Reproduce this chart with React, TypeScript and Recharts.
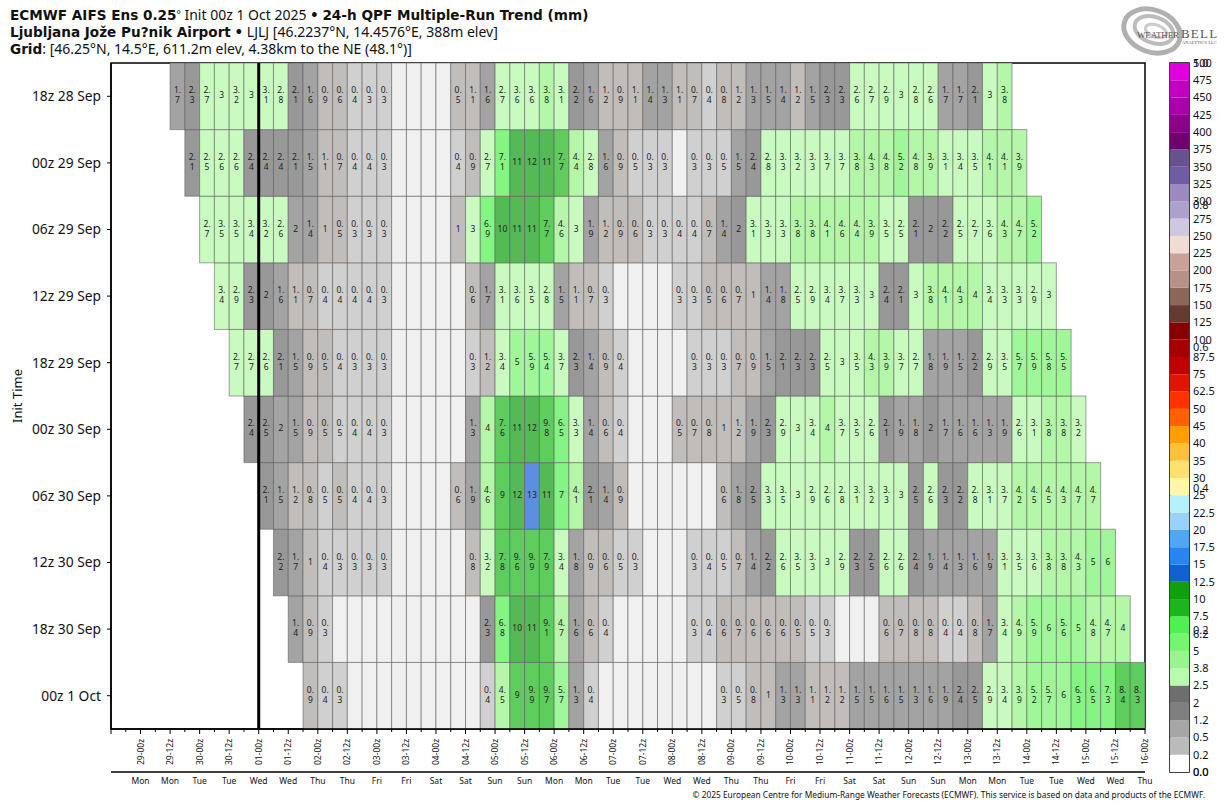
// ECMWF AIFS multi-run QPF trend table, drawn as stacked bars (one series per init run)
import React from "react";
import { BarChart, Bar, XAxis, YAxis, ReferenceLine, ReferenceArea } from "recharts";

const FONT = '"Noto Sans", sans-serif';
const BOLD_FONT = '"DejaVu Sans", sans-serif';

// init runs, top row first
const runLabels = ["18z 28 Sep", "00z 29 Sep", "06z 29 Sep", "12z 29 Sep", "18z 29 Sep", "00z 30 Sep", "06z 30 Sep", "12z 30 Sep", "18z 30 Sep", "00z 1 Oct"];
// first 6-hourly column of each run
const runStarts = [4, 5, 6, 7, 8, 9, 10, 11, 12, 13];

// 24-h QPF per run (mm). 0 means below the lowest printed value.
// 0.48/0.52 style values print the same but fall either side of a colour break
const run18z28Sep = [1.7, 2.3, 2.7, 3, 3.2, 3, 3.1, 2.8, 2.1, 1.6, 0.9, 0.6, 0.4, 0.3, 0.3, 0, 0, 0, 0, 0.52, 1.1, 1.6, 2.7, 3.6, 3.6, 3.8, 3.1, 2.2, 1.6, 1.2, 0.9, 1.1, 1.4, 1.3, 1.1, 0.7, 0.4, 0.8, 1.2, 1.3, 1.5, 1.4, 1.2, 1.5, 2.3, 2.3, 2.6, 2.7, 2.9, 3, 2.8, 2.6, 1.7, 1.7, 2.1, 3, 3.8];
const run00z29Sep = [2.1, 2.54, 2.6, 2.6, 2.4, 2.4, 2.4, 2.1, 1.5, 1.1, 0.7, 0.4, 0.4, 0.3, 0, 0, 0, 0, 0.4, 0.9, 2.7, 7.1, 11, 12, 11, 7.7, 4.4, 2.8, 1.6, 0.9, 0.48, 0.3, 0.3, 0, 0.3, 0.3, 0.48, 1.5, 2.4, 2.8, 3.3, 3.2, 3.3, 3.7, 3.7, 3.8, 4.3, 4.8, 5.2, 4.8, 3.9, 3.1, 3.4, 3.5, 4.1, 4.1, 3.9];
const run06z29Sep = [2.7, 3.5, 3.5, 3.4, 3.2, 2.6, 1.98, 1.4, 1, 0.52, 0.3, 0.3, 0.3, 0, 0, 0, 0, 1, 3, 6.9, 10, 11, 11, 7.7, 4.6, 3, 1.9, 1.2, 0.9, 0.6, 0.3, 0.3, 0.4, 0.4, 0.7, 1.4, 2.02, 3.1, 3.3, 3.3, 3.8, 3.8, 4.1, 4.6, 4.4, 3.9, 3.5, 2.54, 2.1, 2.02, 2.2, 2.54, 2.7, 3.6, 4.3, 4.7, 5.2];
const run12z29Sep = [3.4, 2.9, 2.3, 2.02, 1.6, 1.1, 0.7, 0.4, 0.4, 0.4, 0.4, 0.3, 0, 0, 0, 0, 0, 0.6, 1.7, 3.1, 3.6, 3.5, 2.8, 1.5, 1.1, 0.7, 0.3, 0, 0, 0, 0, 0.3, 0.3, 0.52, 0.6, 0.7, 1, 1.4, 1.8, 2.54, 2.9, 3.4, 3.7, 3.3, 3, 2.4, 2.1, 3, 3.8, 4.1, 4.3, 4, 3.4, 3.3, 3.3, 2.9, 3];
const run18z29Sep = [2.7, 2.7, 2.6, 2.1, 1.5, 0.9, 0.52, 0.4, 0.3, 0.3, 0.3, 0, 0, 0, 0, 0, 0.3, 1.2, 3.4, 5, 5.9, 5.4, 3.7, 2.3, 1.4, 0.9, 0.4, 0, 0, 0, 0, 0.3, 0.3, 0.3, 0.7, 0.9, 1.5, 2.1, 2.3, 2.3, 2.54, 3, 3.5, 4.3, 3.9, 3.7, 2.7, 1.8, 1.9, 1.5, 2.2, 2.9, 3.5, 5.7, 5.9, 5.8, 5.5];
const run00z30Sep = [2.4, 2.46, 1.98, 1.5, 0.9, 0.52, 0.48, 0.4, 0.4, 0.3, 0, 0, 0, 0, 0, 1.3, 4, 7.6, 11, 12, 9.8, 6.5, 3.3, 1.4, 0.6, 0.4, 0, 0, 0, 0.52, 0.7, 0.8, 1, 1.2, 1.9, 2.3, 2.9, 3, 3.4, 4, 3.7, 3.5, 2.6, 2.1, 1.9, 1.8, 2.02, 1.7, 1.6, 1.6, 1.3, 1.9, 2.6, 3.1, 3.8, 3.8, 3.2];
const run06z30Sep = [2.1, 1.5, 1.2, 0.8, 0.48, 0.52, 0.4, 0.4, 0.3, 0, 0, 0, 0, 0.6, 1.9, 4.6, 9, 12, 13, 11, 7, 4.1, 2.1, 1.4, 0.9, 0, 0, 0, 0, 0, 0, 0.6, 1.8, 2.46, 3.3, 3.5, 3, 2.9, 2.6, 2.8, 3.1, 3.2, 3.3, 3, 2.46, 2.6, 2.3, 2.2, 2.8, 3.1, 3.7, 4.2, 4.5, 4.5, 4.3, 4.7, 4.7];
const run12z30Sep = [2.2, 1.7, 1, 0.4, 0.3, 0.3, 0.3, 0.3, 0, 0, 0, 0, 0, 0.8, 3.2, 7.8, 9.6, 9.9, 7.9, 3.4, 1.8, 0.9, 0.6, 0.48, 0.3, 0, 0, 0, 0.3, 0.4, 0.48, 0.7, 1.4, 2.2, 2.6, 3.5, 3.3, 3, 2.9, 2.3, 2.46, 2.6, 2.6, 2.4, 1.9, 1.4, 1.3, 1.6, 1.9, 3.1, 3.5, 3.6, 3.8, 3.8, 4.3, 5, 6];
const run18z30Sep = [1.4, 0.9, 0.3, 0, 0, 0, 0, 0, 0, 0, 0, 0, 0, 2.3, 6.8, 10, 11, 9.1, 4.7, 1.6, 0.6, 0.4, 0, 0, 0, 0, 0, 0.3, 0.4, 0.6, 0.7, 0.6, 0.6, 0.6, 0.52, 0.48, 0.3, 0, 0, 0, 0.6, 0.7, 0.8, 0.8, 0.4, 0.4, 0.8, 1.7, 3.4, 4.9, 5.9, 6, 5.6, 5, 4.8, 4.7, 4];
const run00z1Oct = [0.9, 0.4, 0.3, 0, 0, 0, 0, 0, 0, 0, 0, 0, 0.4, 4.5, 9, 9.9, 9.7, 5.7, 1.3, 0.4, 0, 0, 0, 0, 0, 0, 0, 0, 0.3, 0.48, 0.8, 1, 1.3, 1.3, 1.1, 1.2, 1.2, 1.5, 1.5, 1.6, 1.5, 1.3, 1.6, 1.9, 2.4, 2.46, 2.9, 3.4, 3.9, 5.2, 5.7, 6, 6.3, 6.5, 7.3, 8.4, 8.3];
const runValues = [run18z28Sep, run00z29Sep, run06z29Sep, run12z29Sep, run18z29Sep, run00z30Sep, run06z30Sep, run12z30Sep, run18z30Sep, run00z1Oct];

// x axis labels, one for every 12 hours
const timeLabels = ["29-00z", "29-12z", "30-00z", "30-12z", "01-00z", "01-12z", "02-00z", "02-12z", "03-00z", "03-12z", "04-00z", "04-12z", "05-00z", "05-12z", "06-00z", "06-12z", "07-00z", "07-12z", "08-00z", "08-12z", "09-00z", "09-12z", "10-00z", "10-12z", "11-00z", "11-12z", "12-00z", "12-12z", "13-00z", "13-12z", "14-00z", "14-12z", "15-00z", "15-12z", "16-00z"];
const dayLabels = ["Mon", "Mon", "Tue", "Tue", "Wed", "Wed", "Thu", "Thu", "Fri", "Fri", "Sat", "Sat", "Sun", "Sun", "Mon", "Mon", "Tue", "Tue", "Wed", "Wed", "Thu", "Thu", "Fri", "Fri", "Sat", "Sat", "Sun", "Sun", "Mon", "Mon", "Tue", "Tue", "Wed", "Wed", "Thu"];

// colour table of the cells: upper break, faded fill
const cellBreaks = [0.25, 0.5, 1.25, 2, 2.5, 3.8, 5, 6.25, 7.5, 10, 12.5, 15];
const cellColors = ["#f0f0f0", "#d0d0d0", "#c1bdbb", "#a3a3a3", "#989898", "#c9fbc1", "#b4f7a9", "#9ff79a", "#84f582", "#5ecd5e", "#55b955", "#5b90e0"];

// colour bar, bottom to top
const levelLabels = ["0.0", "0.2", "0.5", "1.2", "2", "2.5", "3.8", "5", "6.2", "7.5", "10", "12.5", "15", "17.5", "20", "22.5", "25", "30", "35", "40", "45", "50", "62.5", "75", "87.5", "100", "125", "150", "175", "200", "225", "250", "275", "300", "325", "350", "375", "400", "425", "450", "475", "500"];
const levelColors = ["#ffffff", "#bbbbbb", "#a6a6a6", "#7f7f7f", "#6e6e6e", "#b9fbac", "#98f58e", "#76f56f", "#50f052", "#1db51f", "#0f9f0f", "#1360d0", "#2a84f0", "#51a5f2", "#98d1fa", "#b5f0fb", "#fff6a8", "#ffe070", "#ffc03d", "#ffa000", "#ff6000", "#ff3200", "#e11400", "#c00000", "#a50000", "#870000", "#653a30", "#8c6659", "#b59285", "#c9a196", "#f0dcd3", "#cdc7e0", "#ada0cd", "#9b89c0", "#6f5ba6", "#67518f", "#700070", "#870087", "#aa00aa", "#c300bf", "#e100db"];
// second, stray 0-1 scale printed over the colour bar labels
const fractionTicks = [0, 0.2, 0.4, 0.6, 0.8, 1];

const COLUMNS = 70;
const RUN_COUNT = runLabels.length;
const LEVEL_COUNT = levelColors.length;

const cellColor = (v: number) => {
  const i = cellBreaks.findIndex((b) => v < b);
  return cellColors[i < 0 ? cellColors.length - 1 : i];
};

// 1.7 prints as "1." over "7", whole numbers print on one line
const cellLines = (v: number): string[] => {
  if (v < 0.25) return [];
  const s = v.toFixed(1);
  if (s.endsWith(".0")) return [s.slice(0, -2)];
  if (v >= 10) return [v.toFixed(0)];
  return [s.slice(0, 2), s.slice(2)];
};

// one row per 6-hour column, each run is one unit tall in the stack
const table = Array.from({ length: COLUMNS }, (_, col) => {
  const row: any = { x: col + 0.5, values: runValues.map((vals, r) => vals[col - runStarts[r]]) };
  runLabels.forEach((_l, r) => {
    row[`span${r}`] = 1;
  });
  return row;
});

// colour bar: one category, one stacked unit per level
const levelRow: any = { band: "all" };
levelColors.forEach((_c, i) => {
  levelRow[`level${i}`] = 1;
});
const levelTable = [levelRow];

const timeTicks = Array.from({ length: COLUMNS + 1 }, (_, i) => i);
const dayTicks = timeLabels.map((_l, i) => 2 + i * 2);
const runTicks = runLabels.map((_l, r) => RUN_COUNT - r - 0.5);

// both colour bar scales share one axis, the fraction ticks are nudged off the integers
const fractionPos = (f: number) => f * LEVEL_COUNT * 0.99999 + 0.00001;
const colorBarTicks = [...levelLabels.map((_l, i) => i), ...fractionTicks.map(fractionPos)];
const colorBarLabel = (v: number) =>
  Number.isInteger(v) ? levelLabels[v] : ((v - 0.00001) / (LEVEL_COUNT * 0.99999)).toFixed(1);

const RunCell = (props: any) => {
  const { x, y, width, height, payload, run } = props;
  const v = payload.values[run];
  if (v === undefined) return null;
  const lines = cellLines(v);
  const cx = x + width / 2;
  const cy = y + height / 2;
  return (
    <g>
      <rect x={x} y={y} width={width} height={height} fill={cellColor(v)} stroke="#5a5a5a" strokeOpacity={0.55} strokeWidth={1} />
      {lines.length === 1 && (
        <text x={cx} y={cy + 2} textAnchor="middle" fontSize={8.5} fontFamily={FONT} fill="#222">{lines[0]}</text>
      )}
      {lines.length === 2 && (
        <text textAnchor="middle" fontSize={8.5} fontFamily={FONT} fill="#222">
          <tspan x={cx} y={cy - 3}>{lines[0]}</tspan>
          <tspan x={cx} y={cy + 7}>{lines[1]}</tspan>
        </text>
      )}
    </g>
  );
};

const TimeTick = (props: any) => {
  const { x, y, payload } = props;
  const major = payload.value % 2 === 0;
  const label = major ? timeLabels[payload.value / 2 - 1] : undefined;
  return (
    <g>
      <line x1={x} x2={x} y1={y} y2={y + (major ? 5 : 3)} stroke="#000" strokeWidth={1} />
      {label && (
        <text transform={`translate(${x + 3},${y + 36}) rotate(-90)`} fontSize={8.5} fontFamily={FONT} fill="#111">{label}</text>
      )}
    </g>
  );
};

const Logo = () => (
  <svg width={116} height={62} style={{ position: "absolute", left: 1110, top: 0 }}>
    <g fill="none" stroke="#b0b0b0">
      <ellipse cx={42} cy={31} rx={29} ry={21} strokeWidth={5} transform="rotate(20 42 31)" />
      <ellipse cx={44} cy={30} rx={20} ry={13} strokeWidth={4} stroke="#bcbcbc" transform="rotate(20 44 30)" />
      <ellipse cx={46} cy={31} rx={11} ry={6} strokeWidth={3} stroke="#cccccc" transform="rotate(20 46 31)" />
    </g>
    <text x={27} y={38} fontFamily='"Liberation Serif", serif' fontSize={9} fill="#555" textLength={42}>WEATHER</text>
    <text x={71} y={38} fontFamily='"Liberation Serif", serif' fontSize={13} fill="#555" letterSpacing={1.2}>BELL</text>
    <text x={72} y={44} fontFamily='"Liberation Serif", serif' fontSize={4.5} fill="#555">ANALYTICS LLC</text>
  </svg>
);

const titleLine: React.CSSProperties = { position: "absolute", left: 10, fontFamily: FONT, fontSize: 14, lineHeight: "18px", color: "#111", whiteSpace: "nowrap" };
const titleBold: React.CSSProperties = { fontFamily: BOLD_FONT, fontWeight: 700, fontSize: 13.6 };

const App = () => (
  <div style={{ position: "absolute", left: 0, top: 0, width: 1226, height: 808, background: "#fff", overflow: "hidden" }}>
    <div style={{ ...titleLine, top: 6 }}>
      <span style={titleBold}>ECMWF AIFS Ens 0.25</span><span style={{ fontSize: 10, verticalAlign: 2, lineHeight: 0 }}>°</span> Init 00z 1 Oct 2025 <span style={titleBold}>•</span> <span style={titleBold}>24-h QPF Multiple-Run Trend (mm)</span>
    </div>
    <div style={{ ...titleLine, top: 23 }}>
      <span style={titleBold}>Ljubljana Jože Pu?nik Airport</span> <span style={titleBold}>•</span> LJLJ [46.2237°N, 14.4576°E, 388m elev]
    </div>
    <div style={{ ...titleLine, top: 40 }}>
      <span style={titleBold}>Grid</span>: [46.25°N, 14.5°E, 611.2m elev, 4.38km to the NE (48.1°)]
    </div>

    <Logo />

    <BarChart
      width={1226}
      height={808}
      data={table}
      margin={{ top: 63, right: 81, bottom: 16, left: 0 }}
      style={{ position: "absolute", left: 0, top: 0 }}
    >
      <XAxis
        xAxisId="hours"
        type="number"
        dataKey="x"
        domain={[0, COLUMNS]}
        ticks={timeTicks}
        interval={0}
        height={43}
        tick={TimeTick}
        tickLine={false}
        tickSize={0}
        tickMargin={0}
        axisLine={{ stroke: "#000", strokeWidth: 1.5 }}
      />
      <XAxis
        xAxisId="weekdays"
        type="number"
        dataKey="x"
        domain={[0, COLUMNS]}
        ticks={dayTicks}
        interval={0}
        height={20}
        tickSize={4}
        tickFormatter={(v: number) => dayLabels[v / 2 - 1]}
        tickLine={false}
        tick={{ fontSize: 8.5, fontFamily: FONT, fill: "#111" }}
        axisLine={{ stroke: "#000", strokeWidth: 1.5 }}
      />
      <YAxis
        type="number"
        domain={[0, RUN_COUNT]}
        ticks={runTicks}
        interval={0}
        width={111}
        tickSize={4}
        tickMargin={6}
        tickFormatter={(v: number) => runLabels[RUN_COUNT - v - 0.5]}
        tick={{ fontSize: 13.8, fontFamily: FONT, fill: "#111" }}
        tickLine={{ stroke: "#000" }}
        axisLine={{ stroke: "#000", strokeWidth: 1.5 }}
        label={{ value: "Init Time", angle: -90, position: "insideLeft", offset: 17, style: { fontSize: 13, fontFamily: FONT, fill: "#111", textAnchor: "middle" } }}
      />
      {runLabels
        .map((_l, r) => r)
        .reverse()
        .map((r) => (
          <Bar
            key={r}
            xAxisId="hours"
            dataKey={`span${r}`}
            stackId="runs"
            barSize={14.75}
            isAnimationActive={false}
            shape={(p: any) => <RunCell {...p} run={r} />}
          />
        ))}
      <ReferenceLine xAxisId="hours" x={10} stroke="#000" strokeWidth={3} />
      <ReferenceArea xAxisId="hours" x1={0} x2={COLUMNS} y1={0} y2={RUN_COUNT} fill="none" stroke="#000" strokeWidth={1.5} />
    </BarChart>

    {/* colour bar on the right */}
    <BarChart
      width={86}
      height={808}
      data={levelTable}
      barCategoryGap={0}
      margin={{ top: 63, right: 0, bottom: 16, left: 30 }}
      style={{ position: "absolute", left: 1140, top: 0 }}
    >
      <XAxis xAxisId="band" dataKey="band" hide />
      <XAxis
        xAxisId="unit"
        type="number"
        domain={[0, 1]}
        ticks={[0, 1]}
        interval={0}
        height={20}
        tickLine={false}
        axisLine={false}
        tick={{ fontSize: 11, fontFamily: FONT, fill: "#111" }}
      />
      <YAxis
        orientation="right"
        type="number"
        domain={[0, LEVEL_COUNT]}
        ticks={colorBarTicks}
        interval={0}
        width={37}
        tickLine={false}
        axisLine={false}
        tickSize={2}
        tickFormatter={colorBarLabel}
        tick={{ fontSize: 11, fontFamily: FONT, fill: "#111" }}
      />
      {levelColors.map((c, i) => (
        <Bar key={i} xAxisId="band" dataKey={`level${i}`} stackId="levels" fill={c} isAnimationActive={false} />
      ))}
      <ReferenceArea xAxisId="band" x1="all" x2="all" y1={0} y2={LEVEL_COUNT} fill="none" stroke="#000" strokeWidth={1.5} />
    </BarChart>

    <div style={{ position: "absolute", right: 21, top: 789, fontFamily: FONT, fontSize: 8.35, lineHeight: "12px", color: "#111", whiteSpace: "nowrap" }}>
      © 2025 European Centre for Medium-Range Weather Forecasts (ECMWF). This service is based on data and products of the ECMWF.
    </div>
  </div>
);

export default App;
